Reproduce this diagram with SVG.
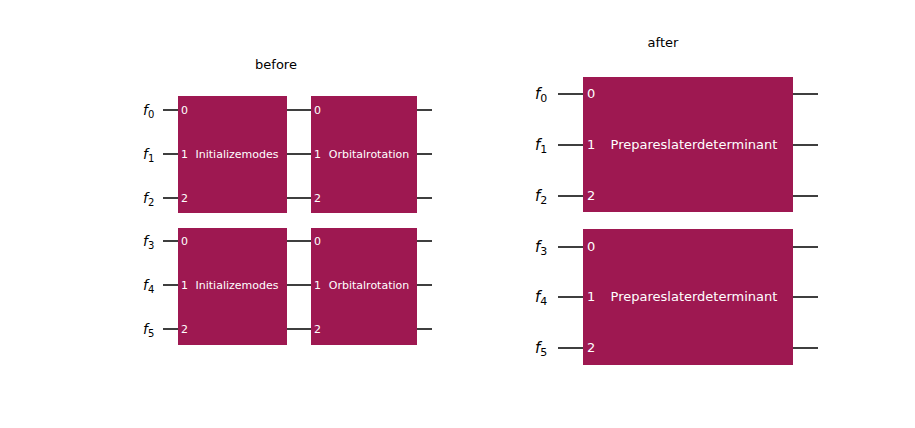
<svg xmlns="http://www.w3.org/2000/svg" width="915" height="428" viewBox="0 0 915 428">
<style>
.w{stroke:#000;stroke-width:1.5}
.b{fill:#9e1851}
.t{font-family:"DejaVu Sans",sans-serif;fill:#fff}
.s{font-size:11px}
.m{font-size:13px}
.f{font-family:"DejaVu Sans",sans-serif;font-style:italic;fill:#000}
.ti{font-family:"DejaVu Sans",sans-serif;font-size:13px;fill:#000}
</style>
<rect width="915" height="428" fill="#fff"/>
<text class="ti" x="276" y="69" text-anchor="middle">before</text>
<text class="ti" x="663" y="47" text-anchor="middle">after</text>
<g id="connectors">
<path class="w" d="M163 110H432M163 154H432M163 198H432M163 241H432M163 285H432M163 329H432"/>
<path class="w" d="M558 94H818M558 145H818M558 196H818M558 247H818M558 297H818M558 348H818"/>
</g>
<g id="labels-left">
<text class="f" x="143" y="115" font-size="14">f<tspan font-size="10" dy="3" font-style="normal">0</tspan></text>
<text class="f" x="143" y="159" font-size="14">f<tspan font-size="10" dy="3" font-style="normal">1</tspan></text>
<text class="f" x="143" y="203" font-size="14">f<tspan font-size="10" dy="3" font-style="normal">2</tspan></text>
<text class="f" x="143" y="246" font-size="14">f<tspan font-size="10" dy="3" font-style="normal">3</tspan></text>
<text class="f" x="143" y="290" font-size="14">f<tspan font-size="10" dy="3" font-style="normal">4</tspan></text>
<text class="f" x="143" y="334" font-size="14">f<tspan font-size="10" dy="3" font-style="normal">5</tspan></text>
</g>
<g id="labels-right">
<text class="f" x="535" y="99" font-size="15">f<tspan font-size="11" dy="3" font-style="normal">0</tspan></text>
<text class="f" x="535" y="150" font-size="15">f<tspan font-size="11" dy="3" font-style="normal">1</tspan></text>
<text class="f" x="535" y="201" font-size="15">f<tspan font-size="11" dy="3" font-style="normal">2</tspan></text>
<text class="f" x="535" y="252" font-size="15">f<tspan font-size="11" dy="3" font-style="normal">3</tspan></text>
<text class="f" x="535" y="302" font-size="15">f<tspan font-size="11" dy="3" font-style="normal">4</tspan></text>
<text class="f" x="535" y="353" font-size="15">f<tspan font-size="11" dy="3" font-style="normal">5</tspan></text>
</g>
<g id="init1"><rect class="b" x="178" y="96" width="109" height="117"/>
<text class="t s" x="181" y="114">0</text><text class="t s" x="181" y="158">1</text><text class="t s" x="181" y="202">2</text>
<text class="t s" x="237" y="158" text-anchor="middle">Initializemodes</text></g>
<g id="orb1"><rect class="b" x="311" y="96" width="106" height="117"/>
<text class="t s" x="314" y="114">0</text><text class="t s" x="314" y="158">1</text><text class="t s" x="314" y="202">2</text>
<text class="t s" x="369" y="158" text-anchor="middle">Orbitalrotation</text></g>
<g id="init2"><rect class="b" x="178" y="228" width="109" height="117"/>
<text class="t s" x="181" y="245">0</text><text class="t s" x="181" y="289">1</text><text class="t s" x="181" y="333">2</text>
<text class="t s" x="237" y="289" text-anchor="middle">Initializemodes</text></g>
<g id="orb2"><rect class="b" x="311" y="228" width="106" height="117"/>
<text class="t s" x="314" y="245">0</text><text class="t s" x="314" y="289">1</text><text class="t s" x="314" y="333">2</text>
<text class="t s" x="369" y="289" text-anchor="middle">Orbitalrotation</text></g>
<g id="prep1"><rect class="b" x="583" y="77" width="210" height="135"/>
<text class="t m" x="587" y="98">0</text><text class="t m" x="587" y="149">1</text><text class="t m" x="587" y="200">2</text>
<text class="t m" x="694" y="149" text-anchor="middle">Prepareslaterdeterminant</text></g>
<g id="prep2"><rect class="b" x="583" y="229" width="210" height="136"/>
<text class="t m" x="587" y="251">0</text><text class="t m" x="587" y="301">1</text><text class="t m" x="587" y="352">2</text>
<text class="t m" x="694" y="301" text-anchor="middle">Prepareslaterdeterminant</text></g>
</svg>
